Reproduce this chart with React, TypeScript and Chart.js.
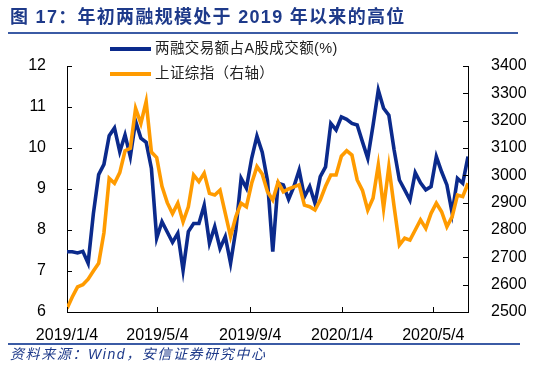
import React, { useEffect, useRef } from 'react';
import { Chart, registerables } from 'chart.js';

Chart.register(...registerables);

// Weekly observations starting 2019/1/4
const startDate = '2019/1/4';

const marginShare: number[] = [
  7.47, 7.47, 7.44, 7.48, 7.19, 8.4, 9.35, 9.6, 10.3, 10.49,
  9.91, 10.32, 9.79, 10.65, 10.24, 10.14, 9.5, 7.8, 8.2, 7.95,
  7.7, 7.92, 7.02, 7.96, 8.16, 8.16, 8.6, 7.68, 8.08, 7.55,
  7.84, 7.19, 8.0, 9.26, 9.02, 9.75, 10.29, 9.9, 9.2, 7.47,
  9.14, 9.1, 8.75, 9.06, 9.46, 8.81, 9.06, 8.65, 9.3, 9.54,
  10.6, 10.44, 10.76, 10.7, 10.6, 10.56, 10.15, 9.75, 10.55, 11.41,
  10.97, 10.8, 9.95, 9.22, 8.98, 8.73, 9.4, 9.15, 8.98, 9.06,
  9.79, 9.42, 9.1, 8.41, 9.26, 9.14, 9.79,
];

const shComposite: number[] = [
  2513, 2555, 2592, 2600, 2620, 2650, 2678, 2790, 2989, 2971,
  3010, 3090, 3099, 3245, 3190, 3270, 3085, 3065, 2960, 2900,
  2860, 2898, 2830, 2885, 3001, 2977, 3008, 2934, 2928, 2946,
  2861, 2776, 2849, 2898, 2885, 2971, 3032, 3005, 2940, 2910,
  2975, 2940, 2950, 2958, 2965, 2891, 2885, 2873, 2910, 2960,
  3001, 3001, 3070, 3090, 3074, 2983, 2945, 2873, 2916, 3038,
  2879, 3032, 2885, 2745, 2770, 2763, 2800, 2837, 2806, 2861,
  2898, 2867, 2812, 2849, 2928, 2922, 2971,
];

const xTickLabels: string[] = ['2019/1/4', '2019/5/4', '2019/9/4', '2020/1/4', '2020/5/4'];
const leftTicks = { min: 6, max: 12, step: 1 };
const rightTicks = { min: 2500, max: 3400, step: 100 };

const seriesNames = ['两融交易额占A股成交额(%)', '上证综指（右轴）'];
const titleText = '图 17：年初两融规模处于 2019 年以来的高位';
const sourceText = '资料来源：Wind，安信证券研究中心';

const BLUE = '#0B2A8C';
const ORANGE = '#FF9B00';
const NAVY_TEXT = '#1E3A8A';

function dayOffset(s: string): number {
  const [a, b, c] = startDate.split('/').map(Number);
  const [y, m, d] = s.split('/').map(Number);
  return (Date.UTC(y, m - 1, d) - Date.UTC(a, b - 1, c)) / 86400000;
}

const innerTicks = {
  id: 'innerTicks',
  afterDatasetsDraw(chart: any) {
    const ctx = chart.ctx;
    const { left, right, bottom } = chart.chartArea;
    ctx.save();
    ctx.strokeStyle = '#000';
    ctx.lineWidth = 1;
    ctx.beginPath();
    const yl = chart.scales.y;
    yl.ticks.forEach((_t: any, i: number) => {
      const py = Math.round(yl.getPixelForTick(i)) + 0.5;
      ctx.moveTo(left, py);
      ctx.lineTo(left + 5, py);
    });
    const yr = chart.scales.y1;
    yr.ticks.forEach((_t: any, i: number) => {
      const py = Math.round(yr.getPixelForTick(i)) + 0.5;
      ctx.moveTo(right, py);
      ctx.lineTo(right - 5, py);
    });
    const xs = chart.scales.x;
    xs.ticks.forEach((_t: any, i: number) => {
      const px = Math.round(xs.getPixelForTick(i)) + 0.5;
      ctx.moveTo(px, bottom);
      ctx.lineTo(px, bottom - 5);
    });
    ctx.stroke();
    ctx.restore();
  },
};

export default function App() {
  const canvasRef = useRef<HTMLCanvasElement | null>(null);

  useEffect(() => {
    if (!canvasRef.current) return;
    const tickDays = xTickLabels.map(dayOffset);
    const lastDay = (marginShare.length - 1) * 7;
    const blueData = marginShare.map((v, i) => ({ x: i * 7, y: v }));
    const orangeData = shComposite.map((v, i) => ({ x: i * 7, y: v }));
    const axisFont = { family: '"Liberation Sans", Arial, sans-serif', size: 16 };

    const chart = new Chart(canvasRef.current, {
      type: 'line',
      data: {
        datasets: [
          {
            label: seriesNames[0],
            data: blueData,
            yAxisID: 'y',
            borderColor: BLUE,
            backgroundColor: BLUE,
            borderWidth: 3.6,
            pointRadius: 0,
            tension: 0,
            order: 1,
          },
          {
            label: seriesNames[1],
            data: orangeData,
            yAxisID: 'y1',
            borderColor: ORANGE,
            backgroundColor: ORANGE,
            borderWidth: 3.6,
            pointRadius: 0,
            tension: 0,
            order: 0,
          },
        ],
      },
      options: {
        animation: false,
        responsive: false,
        maintainAspectRatio: false,
        layout: { padding: { top: 66, left: 0, right: 0, bottom: 0 } },
        plugins: { legend: { display: false }, tooltip: { enabled: false } },
        scales: {
          x: {
            type: 'linear',
            min: 0,
            max: lastDay,
            offset: false,
            grid: { display: false },
            border: { display: true, color: '#000', width: 1 },
            afterBuildTicks: (scale: any) => {
              scale.ticks = tickDays.map((v) => ({ value: v }));
            },
            afterFit: (scale: any) => {
              scale.height = 61;
            },
            ticks: {
              autoSkip: false,
              maxRotation: 0,
              padding: 6,
              color: '#000',
              font: axisFont,
              callback: (_v: any, i: number) => xTickLabels[i],
            },
          },
          y: {
            type: 'linear',
            position: 'left',
            min: leftTicks.min,
            max: leftTicks.max,
            grid: { display: false },
            border: { display: true, color: '#000', width: 1 },
            afterFit: (scale: any) => {
              scale.width = 67;
            },
            ticks: { stepSize: leftTicks.step, padding: 13, color: '#000', font: axisFont, callback: (v: any) => String(v) },
          },
          y1: {
            type: 'linear',
            position: 'right',
            min: rightTicks.min,
            max: rightTicks.max,
            grid: { display: false },
            border: { display: true, color: '#000', width: 1 },
            afterFit: (scale: any) => {
              scale.width = 82;
            },
            ticks: { stepSize: rightTicks.step, padding: 15, color: '#000', font: axisFont, callback: (v: any) => String(v) },
          },
        },
      },
      plugins: [innerTicks],
    });
    return () => chart.destroy();
  }, []);

  const cjk = '"Liberation Sans", Arial, "Noto Sans CJK SC", sans-serif';

  return (
    <div style={{ position: 'absolute', left: 0, top: 0, width: 550, height: 373, background: '#fff', overflow: 'hidden' }}>
      <canvas ref={canvasRef} width={550} height={373} style={{ position: 'absolute', left: 0, top: 0, width: 550, height: 373 }} />
      <div style={{ position: 'absolute', left: 10, top: 7, fontFamily: cjk, fontWeight: 'bold', fontSize: 18, lineHeight: '20px', letterSpacing: 1.3, color: NAVY_TEXT, whiteSpace: 'nowrap' }}>
        {titleText}
      </div>
      <div style={{ position: 'absolute', left: 8, top: 32, width: 510, height: 2, background: '#3B5BA5' }} />
      <div style={{ position: 'absolute', left: 110, top: 46.5, width: 41, height: 4, background: BLUE }} />
      <div style={{ position: 'absolute', left: 155, top: 39, fontFamily: cjk, fontSize: 14.5, lineHeight: '18px', letterSpacing: 0.4, color: '#222', whiteSpace: 'nowrap' }}>
        {seriesNames[0]}
      </div>
      <div style={{ position: 'absolute', left: 110, top: 71.5, width: 41, height: 4, background: ORANGE }} />
      <div style={{ position: 'absolute', left: 155, top: 64, fontFamily: cjk, fontSize: 14.5, lineHeight: '18px', letterSpacing: 0.4, color: '#222', whiteSpace: 'nowrap' }}>
        {seriesNames[1]}
      </div>
      <div style={{ position: 'absolute', left: 8, top: 343, width: 512, height: 2, background: '#3B5BA5' }} />
      <div style={{ position: 'absolute', left: 10, top: 346, fontFamily: cjk, fontStyle: 'italic', fontSize: 14, lineHeight: '16px', letterSpacing: 1.6, color: NAVY_TEXT, whiteSpace: 'nowrap' }}>
        {sourceText}
      </div>
    </div>
  );
}
